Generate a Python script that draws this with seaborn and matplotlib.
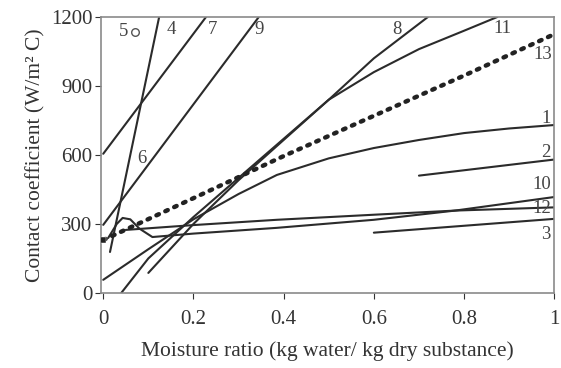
import matplotlib
matplotlib.use("Agg")
import matplotlib.pyplot as plt
import seaborn as sns
import pandas as pd

sns.set_theme(style="white")
plt.rcParams['font.family'] = ['Liberation Serif', 'DejaVu Serif']

# ---- data ----
c1_x = [0.0, 0.1, 0.2, 0.3, 0.385, 0.5, 0.6, 0.7, 0.8, 0.9, 1.0]
c1_y = [57, 190, 320, 430, 513, 585, 630, 665, 695, 715, 730]
c2_x = [0.7, 1.0]
c2_y = [510, 580]
c3_x = [0.6, 1.0]
c3_y = [262, 322]
c4_x = [0.015, 0.124]
c4_y = [178, 1200]
c7_x = [0.0, 0.228]
c7_y = [605, 1200]
c8_x = [0.1, 0.2, 0.3, 0.4, 0.5, 0.6, 0.72]
c8_y = [87, 300, 490, 665, 840, 1020, 1200]
c9_x = [0.0, 0.345]
c9_y = [296, 1200]
c10_x = [0.011, 0.03, 0.043, 0.06, 0.08, 0.109, 0.2, 0.385, 0.6, 0.78, 1.0]
c10_y = [239, 300, 326, 320, 280, 243, 258, 283, 318, 358, 417]
c11_x = [0.04, 0.1, 0.2, 0.3, 0.4, 0.5, 0.6, 0.7, 0.8, 0.874]
c11_y = [0, 150, 330, 500, 670, 840, 960, 1060, 1140, 1200]
c12_x = [0.05, 0.2, 0.385, 0.6, 0.78, 1.0]
c12_y = [274, 295, 318, 340, 358, 372]
c13_x = [0.0, 0.2, 0.4, 0.6, 0.8, 1.0]
c13_y = [230, 412, 595, 770, 945, 1125]
p5_x = [0.07]
p5_y = [1135]

label_text = ["5", "4", "7", "9", "8", "11", "13", "1", "2", "10", "12", "3", "6"]
label_x = [0.046, 0.150, 0.243, 0.345, 0.652, 0.885, 0.975, 0.982, 0.982, 0.972, 0.972, 0.982, 0.085]
label_y = [1135, 1145, 1145, 1145, 1145, 1150, 1035, 760, 610, 470, 365, 255, 585]

xticks = [0, 0.2, 0.4, 0.6, 0.8, 1]
xticklabels = ["0", "0.2", "0.4", "0.6", "0.8", "1"]
yticks = [0, 300, 600, 900, 1200]

fig = plt.figure(figsize=(5.61, 3.68), dpi=100)
ax = fig.add_axes([0.18, 0.204, 0.808, 0.75])

solid = [(c1_x, c1_y), (c2_x, c2_y), (c3_x, c3_y), (c4_x, c4_y), (c7_x, c7_y),
         (c8_x, c8_y), (c9_x, c9_y), (c10_x, c10_y), (c11_x, c11_y), (c12_x, c12_y)]
for xs, ys in solid:
    sns.lineplot(x=xs, y=ys, ax=ax, color="#2b2b2b", linewidth=1.5,
                 estimator=None, sort=False)

sns.lineplot(x=c13_x, y=c13_y, ax=ax, color="#222222", linewidth=3.2,
             estimator=None, sort=False, dashes=False)
ax.lines[-1].set_linestyle((0, (0.6, 1.6)))
ax.lines[-1].set_dash_capstyle("round")

sns.scatterplot(x=p5_x, y=p5_y, ax=ax, marker="o", s=30, facecolor="white",
                edgecolor="#555555", linewidth=1.0, zorder=5)
sns.scatterplot(x=[0.0], y=[230], ax=ax, marker="s", s=14, color="#222222",
                zorder=5)

for t, x, y in zip(label_text, label_x, label_y):
    ax.text(x, y, t, fontsize=13.5, color="#444444", ha="center", va="center")

ax.set_xlim(-0.005, 0.995)
ax.set_ylim(0, 1200)
ax.set_xticks(xticks)
ax.set_xticklabels(xticklabels)
ax.set_yticks(yticks)
ax.tick_params(axis="both", labelsize=15, colors="#333333", length=4,
               width=0.8, direction="out", bottom=True, left=True, pad=2)
ax.tick_params(axis="x", pad=8)
for lab in ax.get_xticklabels() + ax.get_yticklabels():
    lab.set_color("#333333")
for s in ax.spines.values():
    s.set_color("#8a8a8a")
    s.set_linewidth(1.2)
ax.set_xlabel("Moisture ratio (kg water/ kg dry substance)", fontsize=15.5,
              color="#333333", labelpad=9)
ax.set_ylabel("Contact coefficient (W/m² C)", fontsize=15.5,
              color="#333333", labelpad=4)

fig.savefig("out.png", dpi=100)
